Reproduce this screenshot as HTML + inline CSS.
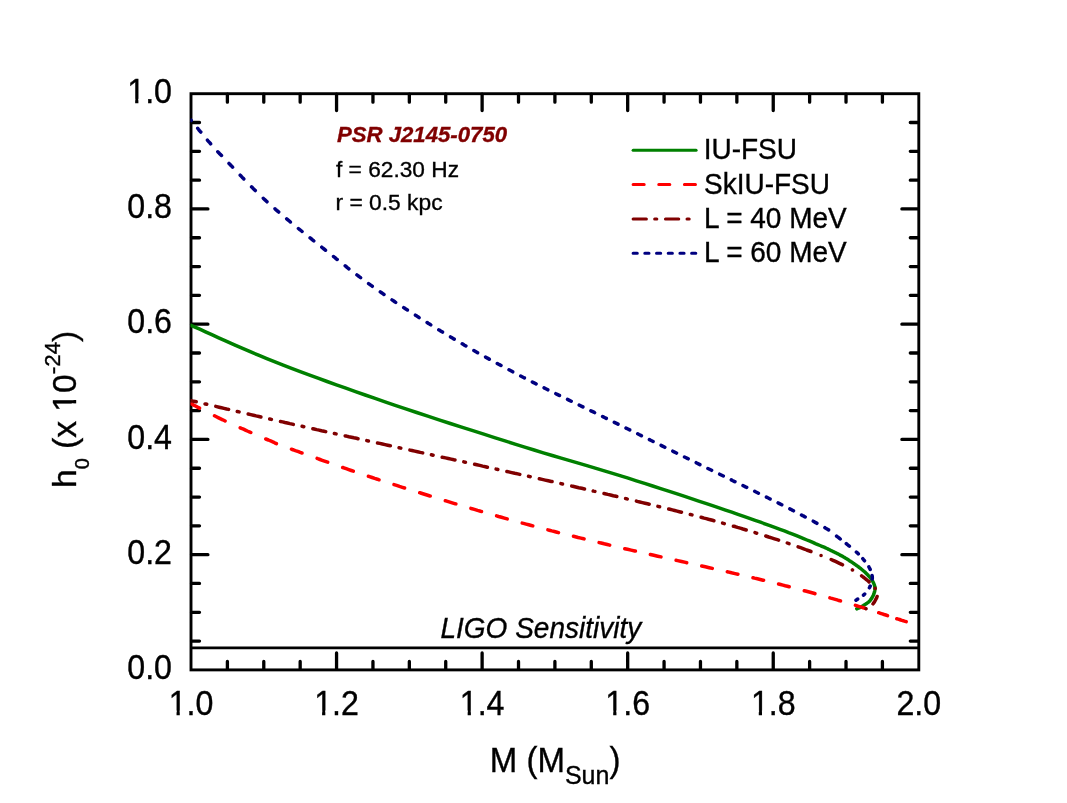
<!DOCTYPE html>
<html><head><meta charset="utf-8"><title>chart</title>
<style>
html,body{margin:0;padding:0;background:#fff;}
body{width:1067px;height:803px;overflow:hidden;}
svg{display:block;will-change:transform;}
text{font-family:"Liberation Sans",sans-serif;fill:#000;stroke:#000;stroke-width:0.35px;}
</style></head><body>
<svg width="1067" height="803" viewBox="0 0 1067 803">

<g fill="none" stroke="#000" stroke-width="2.9">
<path d="M191.0,647.83H918.8"/>
<path d="M227.39,669.40v-8.0M227.39,94.20v8.0M263.78,669.40v-8.0M263.78,94.20v8.0M300.17,669.40v-8.0M300.17,94.20v8.0M336.56,669.40v-16.4M336.56,94.20v16.4M372.95,669.40v-8.0M372.95,94.20v8.0M409.34,669.40v-8.0M409.34,94.20v8.0M445.73,669.40v-8.0M445.73,94.20v8.0M482.12,669.40v-16.4M482.12,94.20v16.4M518.51,669.40v-8.0M518.51,94.20v8.0M554.90,669.40v-8.0M554.90,94.20v8.0M591.29,669.40v-8.0M591.29,94.20v8.0M627.68,669.40v-16.4M627.68,94.20v16.4M664.07,669.40v-8.0M664.07,94.20v8.0M700.46,669.40v-8.0M700.46,94.20v8.0M736.85,669.40v-8.0M736.85,94.20v8.0M773.24,669.40v-16.4M773.24,94.20v16.4M809.63,669.40v-8.0M809.63,94.20v8.0M846.02,669.40v-8.0M846.02,94.20v8.0M882.41,669.40v-8.0M882.41,94.20v8.0M191.50,641.09h8.0M918.30,641.09h-8.0M191.50,612.28h8.0M918.30,612.28h-8.0M191.50,583.47h8.0M918.30,583.47h-8.0M191.50,554.66h16.4M918.30,554.66h-16.4M191.50,525.85h8.0M918.30,525.85h-8.0M191.50,497.04h8.0M918.30,497.04h-8.0M191.50,468.23h8.0M918.30,468.23h-8.0M191.50,439.42h16.4M918.30,439.42h-16.4M191.50,410.61h8.0M918.30,410.61h-8.0M191.50,381.80h8.0M918.30,381.80h-8.0M191.50,352.99h8.0M918.30,352.99h-8.0M191.50,324.18h16.4M918.30,324.18h-16.4M191.50,295.37h8.0M918.30,295.37h-8.0M191.50,266.56h8.0M918.30,266.56h-8.0M191.50,237.75h8.0M918.30,237.75h-8.0M191.50,208.94h16.4M918.30,208.94h-16.4M191.50,180.13h8.0M918.30,180.13h-8.0M191.50,151.32h8.0M918.30,151.32h-8.0M191.50,122.51h8.0M918.30,122.51h-8.0" stroke-linecap="round" stroke-width="3.3"/>
<rect x="191.0" y="93.7" width="727.80" height="576.20"/>
</g>
<clipPath id="c"><rect x="190.5" y="90" width="732" height="582"/></clipPath>
<g fill="none" stroke-linecap="round" stroke-linejoin="round" stroke-width="3.5" clip-path="url(#c)">
<path d="M191.0,325.3 L195.0,327.1 L199.8,329.2 L205.5,331.8 L211.8,334.7 L218.7,337.8 L226.1,341.1 L233.9,344.6 L242.0,348.1 L250.2,351.7 L258.5,355.2 L266.8,358.6 L275.0,361.9 L283.2,365.1 L291.6,368.3 L300.2,371.6 L309.0,374.9 L318.0,378.2 L327.1,381.5 L336.4,384.8 L345.9,388.2 L355.5,391.6 L365.2,395.0 L375.1,398.4 L385.0,401.8 L395.2,405.3 L405.8,408.8 L416.7,412.5 L427.8,416.1 L439.0,419.8 L450.3,423.5 L461.6,427.1 L472.8,430.7 L483.8,434.2 L494.5,437.6 L505.0,440.9 L515.0,444.1 L524.7,447.1 L534.1,450.0 L543.3,452.8 L552.3,455.5 L561.2,458.1 L569.8,460.6 L578.4,463.1 L586.9,465.6 L595.2,468.1 L603.5,470.6 L611.8,473.1 L620.0,475.6 L628.2,478.2 L636.4,480.8 L644.6,483.4 L652.7,486.0 L660.7,488.6 L668.6,491.1 L676.4,493.7 L684.0,496.2 L691.4,498.7 L698.7,501.1 L705.7,503.4 L712.5,505.7 L719.1,507.9 L725.5,510.1 L731.8,512.2 L737.9,514.3 L743.8,516.4 L749.5,518.4 L755.1,520.3 L760.5,522.2 L765.6,524.1 L770.6,525.9 L775.4,527.6 L780.0,529.3 L784.4,530.9 L788.6,532.6 L792.6,534.1 L796.5,535.7 L800.1,537.2 L803.6,538.6 L806.9,540.0 L809.9,541.2 L812.8,542.4 L815.4,543.6 L817.8,544.6 L820.0,545.5 L821.9,546.3 L823.4,546.9 L824.6,547.4 L825.6,547.9 L826.3,548.2 L826.9,548.5 L827.4,548.7 L827.8,548.9 L828.2,549.1 L828.7,549.4 L829.3,549.6 L830.0,550.0 L830.8,550.4 L831.7,550.8 L832.5,551.2 L833.3,551.6 L834.1,552.0 L834.9,552.4 L835.8,552.8 L836.6,553.2 L837.4,553.6 L838.2,554.0 L839.1,554.5 L839.9,554.9 L840.7,555.4 L841.6,555.8 L842.4,556.3 L843.2,556.8 L844.1,557.3 L844.9,557.8 L845.7,558.3 L846.6,558.8 L847.4,559.3 L848.2,559.8 L849.1,560.4 L849.9,560.9 L850.7,561.5 L851.6,562.0 L852.5,562.6 L853.3,563.2 L854.2,563.8 L855.0,564.4 L855.9,565.0 L856.7,565.6 L857.5,566.2 L858.3,566.8 L859.1,567.3 L859.8,567.9 L860.5,568.4 L861.2,569.0 L861.8,569.5 L862.4,570.0 L863.0,570.5 L863.6,571.0 L864.2,571.5 L864.7,571.9 L865.3,572.4 L865.8,572.9 L866.3,573.4 L866.8,573.9 L867.3,574.4 L867.8,574.9 L868.2,575.4 L868.7,575.9 L869.1,576.4 L869.6,576.9 L870.0,577.3 L870.4,577.8 L870.8,578.3 L871.1,578.8 L871.5,579.3 L871.8,579.8 L872.1,580.3 L872.4,580.8 L872.7,581.3 L873.0,581.9 L873.2,582.4 L873.5,582.9 L873.7,583.4 L873.9,583.9 L874.1,584.4 L874.3,584.9 L874.5,585.4 L874.6,585.8 L874.7,586.2 L874.8,586.6 L874.9,586.9 L875.0,587.2 L875.0,587.5 L875.0,587.8 L875.0,588.1 L875.0,588.4 L875.0,588.7 L875.0,589.1 L874.9,589.4 L874.9,589.8 L874.8,590.2 L874.8,590.6 L874.7,591.1 L874.6,591.5 L874.5,592.0 L874.3,592.5 L874.2,592.9 L874.0,593.4 L873.9,593.9 L873.7,594.4 L873.5,594.8 L873.3,595.3 L873.1,595.8 L872.8,596.2 L872.6,596.7 L872.3,597.2 L872.1,597.7 L871.8,598.1 L871.5,598.6 L871.1,599.1 L870.8,599.5 L870.5,600.0 L870.2,600.4 L869.8,600.8 L869.4,601.2 L869.1,601.6 L868.7,601.9 L868.2,602.3 L867.8,602.6 L867.4,602.9 L867.0,603.2 L866.5,603.5 L866.1,603.8 L865.7,604.1 L865.2,604.4 L864.8,604.7 L864.4,605.0 L863.9,605.2 L863.5,605.5 L863.1,605.8 L862.6,606.0 L862.2,606.3 L861.7,606.5 L861.3,606.7 L860.9,606.9 L860.5,607.1 L860.1,607.3 L859.8,607.5 L859.5,607.7 L859.1,607.8 L858.8,608.0 L858.5,608.1 L858.3,608.2 L858.0,608.3 L857.7,608.4 L857.5,608.5 L857.3,608.6 L857.1,608.7 L856.9,608.7 L856.8,608.8" stroke="#008000"/>
<path d="M191.0,403.7 L192.2,404.3 L193.7,405.1 L195.5,406.0 L197.5,407.1 L199.5,408.1 M214.5,415.8 L216.4,416.8 L218.6,417.9 L220.7,418.9 L222.7,419.8 L224.7,420.8 L225.1,421.0 M240.2,427.8 L241.5,428.4 L243.5,429.2 L245.4,430.1 L247.3,431.0 L249.3,431.8 L250.8,432.5 M265.8,439.0 L268.4,440.0 L271.2,441.2 L273.3,442.1 L274.7,442.8 L275.8,443.3 L276.4,443.6 M291.5,449.2 L292.3,449.5 L293.8,450.0 L295.3,450.6 L296.9,451.1 L298.5,451.7 L300.2,452.4 L302.0,453.0 L302.1,453.0 M317.1,458.4 L317.8,458.7 L320.0,459.5 L322.2,460.3 L324.5,461.1 L326.8,461.9 L327.7,462.2 M342.7,467.5 L343.7,467.8 L346.2,468.7 L348.7,469.6 L351.3,470.5 L353.3,471.2 M368.4,476.3 L369.5,476.6 L372.1,477.5 L374.7,478.4 L377.4,479.2 L379.0,479.8 M394.0,484.6 L396.6,485.4 L399.5,486.4 L402.4,487.3 L404.6,488.0 M419.7,492.7 L420.6,493.0 L423.7,494.0 L426.9,495.0 L430.0,496.0 L430.3,496.0 M445.3,500.7 L445.9,500.8 L449.1,501.8 L452.2,502.8 L455.4,503.8 L455.9,503.9 M470.9,508.4 L471.2,508.5 L474.4,509.4 L477.5,510.4 L480.6,511.3 L481.5,511.5 M496.6,515.9 L498.6,516.5 L501.5,517.3 L504.4,518.1 L507.2,518.9 M522.2,523.1 L523.5,523.4 L526.1,524.1 L528.7,524.8 L531.3,525.5 L532.8,525.9 M547.9,529.9 L549.3,530.2 L551.8,530.9 L554.4,531.5 L557.0,532.2 L558.5,532.6 M573.5,536.3 L575.4,536.8 L578.1,537.5 L580.9,538.1 L583.7,538.8 L584.1,538.9 M599.1,542.6 L601.1,543.0 L604.2,543.8 L607.3,544.5 L609.7,545.1 M624.8,548.7 L627.5,549.3 L631.1,550.1 L634.8,551.0 L635.4,551.1 M650.4,554.5 L653.8,555.3 L657.7,556.2 L661.0,556.9 M676.1,560.3 L677.6,560.6 L681.6,561.5 L685.6,562.4 L686.7,562.7 M701.7,566.0 L705.4,566.8 L709.2,567.7 L712.3,568.4 M727.3,571.8 L728.0,571.9 L731.5,572.8 L735.0,573.6 L737.9,574.2 M753.0,577.7 L754.5,578.1 L757.4,578.8 L760.2,579.5 L763.0,580.2 L763.6,580.3 M778.6,584.0 L780.6,584.5 L782.9,585.1 L785.2,585.7 L787.4,586.2 L789.2,586.7 M804.3,590.7 L805.5,591.0 L807.4,591.5 L809.3,592.0 L811.1,592.5 L812.9,593.0 L814.7,593.5 L814.9,593.6 M829.9,597.8 L830.8,598.1 L832.6,598.6 L834.4,599.1 L836.2,599.6 L838.0,600.2 L839.9,600.7 L840.5,600.9 M855.4,605.3 L857.4,606.0 L859.4,606.6 L861.3,607.2 L863.3,607.8 L865.3,608.4 M878.7,612.7 L880.5,613.3 L882.3,613.9 L884.1,614.5 L885.8,615.0 L887.5,615.6 M896.8,618.7 L898.2,619.1 L899.5,619.5 L900.8,620.0 L902.0,620.4 L903.2,620.7 L904.3,621.1 L905.3,621.4 L906.2,621.7" stroke="#ff0000"/>
<path d="M191.0,400.6 L192.2,400.9 L193.6,401.2 L195.0,401.5 L196.2,401.8 M205.0,403.9 L205.7,404.0 L206.7,404.3 M215.8,406.4 L216.7,406.6 L219.1,407.2 L221.5,407.8 L224.0,408.4 L226.6,409.0 L228.6,409.4 M237.3,411.5 L239.1,411.9 M248.2,414.0 L250.7,414.6 L253.4,415.2 L256.1,415.9 L258.9,416.5 L260.9,417.0 M269.7,419.0 L271.4,419.4 M280.5,421.5 L282.6,421.9 L285.0,422.5 L287.4,423.0 L289.9,423.6 L292.3,424.1 L293.3,424.4 M302.1,426.3 L303.8,426.7 M312.9,428.7 L314.2,429.0 L316.6,429.6 L319.1,430.1 L321.5,430.7 L324.0,431.2 L325.7,431.6 M334.4,433.5 L336.1,433.9 M345.2,435.9 L346.4,436.1 L348.9,436.7 L351.4,437.2 L353.9,437.8 L356.5,438.3 L358.0,438.7 M366.8,440.6 L368.4,441.0 M377.5,443.0 L379.7,443.4 L382.4,444.0 L385.0,444.6 L387.7,445.2 L390.3,445.8 L390.4,445.8 M399.1,447.7 L400.8,448.1 M409.9,450.1 L412.0,450.5 L414.7,451.1 L417.5,451.7 L420.3,452.4 L422.7,452.9 M431.4,454.8 L433.1,455.2 M442.2,457.2 L442.6,457.3 L445.5,457.9 L448.3,458.5 L451.1,459.1 L454.0,459.8 L455.0,460.0 M463.8,461.9 L465.4,462.3 L465.5,462.3 M474.6,464.3 L476.8,464.8 L479.7,465.4 L482.6,466.1 L485.5,466.7 L487.4,467.2 M496.1,469.1 L497.0,469.3 L497.8,469.5 M506.9,471.5 L508.7,471.9 L511.7,472.6 L514.7,473.3 L517.7,473.9 L519.8,474.4 M528.5,476.3 L529.8,476.6 L530.2,476.7 M539.3,478.8 L542.1,479.4 L545.2,480.1 L548.3,480.8 L551.3,481.5 L552.1,481.6 M560.9,483.6 L562.5,484.0 M571.7,486.1 L572.7,486.3 L575.7,487.0 L578.7,487.7 L581.7,488.3 L584.5,489.0 M593.2,491.0 L593.5,491.1 L594.9,491.4 M604.0,493.5 L605.0,493.7 L607.8,494.4 L610.5,495.0 L613.3,495.7 L616.0,496.3 L616.8,496.5 M625.6,498.6 L626.7,498.8 L627.2,499.0 M636.4,501.1 L637.2,501.4 L639.8,502.0 L642.4,502.6 L645.0,503.2 L647.5,503.8 L649.2,504.2 M657.9,506.4 L659.6,506.8 M668.7,509.0 L669.9,509.3 L672.3,509.9 L674.7,510.5 L677.1,511.1 L679.4,511.7 L681.5,512.2 M690.3,514.5 L690.9,514.6 L692.0,514.9 M701.1,517.3 L702.0,517.5 L704.1,518.1 L706.3,518.6 L708.4,519.2 L710.4,519.7 L712.5,520.3 L713.9,520.7 M722.6,523.1 L724.3,523.6 M733.4,526.2 L733.9,526.3 L735.7,526.8 L737.5,527.4 L739.3,527.9 L741.1,528.4 L742.9,529.0 L744.6,529.5 L746.2,530.0 M755.0,532.6 L756.3,533.1 L756.7,533.2 M765.8,536.0 L768.7,537.0 L771.6,537.9 L774.5,538.8 L777.3,539.7 L778.6,540.1 M787.3,543.0 L787.8,543.2 L789.0,543.6 M798.1,546.8 L800.6,547.7 L803.7,548.8 L806.7,550.0 L809.6,551.0 L810.9,551.5 M821.0,555.4 L821.1,555.4 M831.2,559.5 L833.0,560.3 L834.9,561.2 L837.0,562.2 L839.4,563.3 L841.7,564.4 L842.5,564.8 M852.4,569.9 L852.5,570.0 M861.6,575.8 L863.1,577.0 L864.6,578.1 L866.1,579.3 L867.5,580.5 L868.9,581.7 L869.1,582.0 M875.1,588.3 L875.2,588.4 M877.1,596.5 L876.6,597.9 L875.9,599.2 L875.1,600.7 L874.3,602.2 L873.2,603.6 L873.0,603.9 M866.1,608.7 L866.0,608.7 L866.0,608.7" stroke="#800000"/>
<path d="M191.0,120.2 L191.2,120.4 M197.7,128.3 L197.8,128.4 L198.3,129.1 L198.8,129.7 L199.3,130.4 L199.9,131.0 L200.4,131.7 L200.8,132.1 M207.4,140.1 L208.0,140.8 L208.9,141.8 L209.7,142.7 L210.4,143.5 L210.6,143.8 M217.8,151.8 L217.9,151.9 L218.4,152.3 L218.8,152.8 L219.4,153.4 L219.9,153.9 L220.5,154.5 L221.1,155.2 L221.5,155.5 M229.0,163.4 L229.3,163.7 L230.3,164.7 L231.2,165.8 L232.3,166.8 L232.6,167.2 M240.2,175.2 L241.1,176.1 L242.3,177.4 L243.5,178.6 L243.8,178.9 M251.6,186.9 L252.2,187.4 L253.4,188.7 L254.7,190.0 L255.3,190.6 M263.3,198.3 L263.7,198.7 L265.0,199.9 L266.2,201.0 L267.0,201.8 M275.0,208.8 L275.4,209.2 L276.7,210.4 L278.1,211.5 L278.7,212.1 M286.7,218.8 L287.9,219.8 L289.3,221.0 L290.4,222.0 M298.4,228.5 L299.4,229.3 L300.9,230.5 L302.1,231.5 M310.1,237.9 L311.1,238.7 L312.5,239.9 L313.8,240.9 M321.8,247.2 L322.6,247.9 L324.0,249.0 L325.4,250.1 L325.5,250.2 M333.5,256.5 L333.6,256.7 L335.0,257.7 L336.3,258.8 L337.2,259.5 M345.2,265.8 L345.7,266.2 L347.0,267.3 L348.3,268.3 L348.9,268.8 M356.9,274.9 L357.9,275.6 L359.2,276.7 L360.6,277.7 M368.6,283.6 L369.3,284.1 L370.7,285.1 L372.2,286.2 L372.3,286.3 M380.3,291.9 L381.6,292.8 L383.2,293.9 L384.0,294.5 M392.0,299.9 L393.4,300.8 L395.1,302.0 L395.7,302.4 M403.7,307.6 L404.0,307.8 L405.8,309.0 L407.4,310.0 M415.4,315.2 L416.9,316.1 L418.7,317.3 L419.1,317.6 M427.1,322.5 L428.0,323.2 L429.9,324.3 L430.8,324.9 M438.8,329.8 L439.2,330.1 L441.0,331.2 L442.5,332.1 M450.5,336.9 L452.0,337.8 L453.8,338.9 L454.2,339.1 M462.2,343.8 L462.7,344.1 L464.5,345.2 L465.9,346.0 M473.9,350.5 L475.1,351.2 L476.8,352.2 L477.6,352.7 M485.6,357.1 L485.7,357.2 L487.4,358.1 L489.2,359.1 L489.3,359.2 M497.3,363.5 L498.1,364.0 L499.9,364.9 L501.0,365.5 M509.0,369.8 L509.0,369.8 L510.9,370.8 L512.7,371.8 L512.7,371.8 M520.7,376.0 L522.1,376.7 L524.0,377.7 L524.4,377.9 M532.4,382.0 L533.6,382.7 L535.6,383.6 L536.1,383.9 M544.1,387.9 L545.3,388.5 L547.3,389.5 L547.8,389.8 M555.8,393.7 L557.2,394.4 L559.2,395.4 L559.5,395.5 M567.5,399.4 L569.4,400.3 L571.2,401.2 M579.2,405.1 L579.6,405.3 L581.7,406.3 L582.9,406.9 M590.9,410.8 L592.2,411.4 L594.3,412.4 L594.6,412.6 M602.6,416.5 L602.8,416.6 L605.0,417.7 L606.3,418.4 M614.3,422.3 L616.0,423.1 L618.0,424.1 M626.0,428.1 L627.4,428.8 L629.7,429.9 L629.7,429.9 M637.7,433.8 L639.0,434.5 L641.3,435.6 L641.4,435.7 M649.4,439.6 L650.7,440.3 L653.1,441.5 L653.1,441.5 M661.1,445.4 L662.5,446.1 L664.8,447.3 L664.8,447.3 M672.8,451.2 L674.1,451.9 L676.4,453.0 L676.5,453.1 M684.5,457.0 L685.6,457.5 L687.8,458.6 L688.2,458.8 M696.2,462.7 L696.7,463.0 L698.9,464.1 L699.9,464.6 M707.9,468.5 L710.0,469.5 L711.6,470.3 M719.6,474.2 L721.2,475.0 L723.3,476.0 M731.3,479.9 L732.4,480.5 L734.6,481.6 L735.0,481.7 M743.0,485.6 L743.4,485.8 L745.5,486.9 L746.7,487.4 M754.7,491.3 L756.0,492.0 L758.0,493.0 L758.4,493.2 M766.4,497.1 L767.8,497.8 L769.6,498.7 L770.1,499.0 M778.1,502.9 L778.4,503.1 L780.0,503.9 L781.6,504.7 L781.8,504.8 M789.8,508.9 L790.7,509.3 L792.1,510.1 L793.5,510.8 L793.5,510.8 M801.5,515.0 L802.6,515.6 L803.9,516.2 L805.0,516.9 L805.2,517.0 M813.2,521.2 L813.8,521.5 L814.7,522.1 L815.7,522.6 L816.7,523.1 L816.9,523.3 M824.9,527.7 L825.0,527.8 L825.7,528.2 L826.4,528.6 L827.0,529.0 L827.6,529.3 L828.2,529.7 L828.6,529.9 M836.6,536.1 L837.2,536.6 L838.0,537.2 L838.9,537.9 L839.7,538.5 L840.3,539.0 M846.3,543.7 L846.9,544.2 L847.4,544.6 L847.9,545.0 L848.4,545.4 L848.9,545.8 L849.4,546.2 M856.4,552.1 L856.8,552.4 L857.2,552.8 L857.6,553.2 L858.0,553.5 L858.3,553.9 M862.8,558.7 L863.1,559.1 L863.4,559.4 L863.7,559.8 L864.0,560.2 L864.3,560.6 L864.5,560.8 M868.9,566.9 L869.1,567.3 L869.4,567.8 L869.6,568.2 L869.8,568.6 L870.0,569.1 L870.2,569.5 M872.1,575.5 L872.2,576.2 L872.3,576.9 L872.3,577.6 L872.3,578.4 L872.2,579.1 M870.2,586.1 L870.1,586.3 L870.0,586.6 L869.9,586.8 L869.8,587.0 L869.7,587.2 L869.6,587.4 L869.5,587.6 L869.4,587.8 M864.7,594.0 L864.5,594.2 L864.4,594.3 L864.2,594.5 L864.0,594.7 L863.9,594.8 L863.7,595.0 L863.5,595.1 M857.7,599.1 L857.1,599.4 L856.7,599.7 L856.4,600.0 L856.1,600.1 L856.0,600.2" stroke="#000080"/>
</g>
<g fill="none" stroke-linecap="round" stroke-width="3.0">
<path d="M633.1,150.3H696.1" stroke="#008000"/>
<path d="M633.1,184.6H696.1" stroke="#ff0000" stroke-dasharray="11.1 14.54"/>
<path d="M633.1,218.9H690" stroke="#800000" stroke-dasharray="13.3 8.25 2.2 8.6"/>
<path d="M633.1,253.3H696.1" stroke="#000080" stroke-dasharray="4.2 7.5"/>
</g>
<text transform="translate(703.70,159.40) scale(1,1.050)" font-size="28">IU-FSU</text>
<text transform="translate(704.00,194.00) scale(1,1.050)" font-size="28">SkIU-FSU</text>
<text transform="translate(703.90,228.05) scale(1,1.050)" font-size="28">L = 40 MeV</text>
<text transform="translate(703.90,262.00) scale(1,1.050)" font-size="28">L = 60 MeV</text>
<g transform="translate(191.00,714.55) scale(0.975,1.045)"><text font-size="33.0" text-anchor="middle">1.0</text><rect fill="#fff" x="-22.29" y="-3.87" width="7.45" height="5.87"/><rect fill="#fff" x="-11.52" y="-3.87" width="6.99" height="5.87"/></g><g transform="translate(336.56,714.55) scale(0.975,1.045)"><text font-size="33.0" text-anchor="middle">1.2</text><rect fill="#fff" x="-22.29" y="-3.87" width="7.45" height="5.87"/><rect fill="#fff" x="-11.52" y="-3.87" width="6.99" height="5.87"/></g><g transform="translate(482.12,714.55) scale(0.975,1.045)"><text font-size="33.0" text-anchor="middle">1.4</text><rect fill="#fff" x="-22.29" y="-3.87" width="7.45" height="5.87"/><rect fill="#fff" x="-11.52" y="-3.87" width="6.99" height="5.87"/></g><g transform="translate(627.68,714.55) scale(0.975,1.045)"><text font-size="33.0" text-anchor="middle">1.6</text><rect fill="#fff" x="-22.29" y="-3.87" width="7.45" height="5.87"/><rect fill="#fff" x="-11.52" y="-3.87" width="6.99" height="5.87"/></g><g transform="translate(773.24,714.55) scale(0.975,1.045)"><text font-size="33.0" text-anchor="middle">1.8</text><rect fill="#fff" x="-22.29" y="-3.87" width="7.45" height="5.87"/><rect fill="#fff" x="-11.52" y="-3.87" width="6.99" height="5.87"/></g><g transform="translate(918.80,714.55) scale(0.975,1.045)"><text font-size="33.0" text-anchor="middle">2.0</text></g><g transform="translate(172.00,679.10) scale(0.975,1.045)"><text font-size="33.0" text-anchor="end">0.0</text></g><g transform="translate(172.00,563.86) scale(0.975,1.045)"><text font-size="33.0" text-anchor="end">0.2</text></g><g transform="translate(172.00,448.62) scale(0.975,1.045)"><text font-size="33.0" text-anchor="end">0.4</text></g><g transform="translate(172.00,333.38) scale(0.975,1.045)"><text font-size="33.0" text-anchor="end">0.6</text></g><g transform="translate(172.00,218.14) scale(0.975,1.045)"><text font-size="33.0" text-anchor="end">0.8</text></g><g transform="translate(172.00,102.90) scale(0.975,1.045)"><text font-size="33.0" text-anchor="end">1.0</text><rect fill="#fff" x="-45.23" y="-3.87" width="7.45" height="5.87"/><rect fill="#fff" x="-34.46" y="-3.87" width="6.99" height="5.87"/></g>
<g fill="#fff"></g>
<text transform="translate(336.90,141.80) scale(1,0.955)" font-size="22.2" font-weight="bold" font-style="italic" style="fill:#800000;stroke:#800000">PSR J2145-0750</text>
<text transform="translate(336.00,176.50) scale(1,0.970)" font-size="22.7">f = 62.30 Hz</text>
<text transform="translate(335.50,210.40) scale(1,0.970)" font-size="22.8">r = 0.5 kpc</text>
<text transform="translate(440.50,638.00) scale(1,1.060)" font-size="28" font-style="italic">LIGO Sensitivity</text>
<text transform="translate(489.80,772.40) scale(1,1.050)" font-size="33">M (M<tspan font-size="25" dy="11">Sun</tspan><tspan dy="-11">)</tspan></text>
<g transform="translate(75.8,488) rotate(-90) scale(1.018,1.03)"><text font-size="33">h<tspan font-size="19.5" dy="13">0</tspan><tspan dy="-13"> (x 10</tspan><tspan font-size="22" dy="-15">-24</tspan><tspan dy="15">)</tspan></text><g fill="#fff"><rect x="75.66" y="-3.97" width="7.45" height="5.97"/><rect x="86.43" y="-3.97" width="6.99" height="5.97"/></g></g>
</svg>
</body></html>
